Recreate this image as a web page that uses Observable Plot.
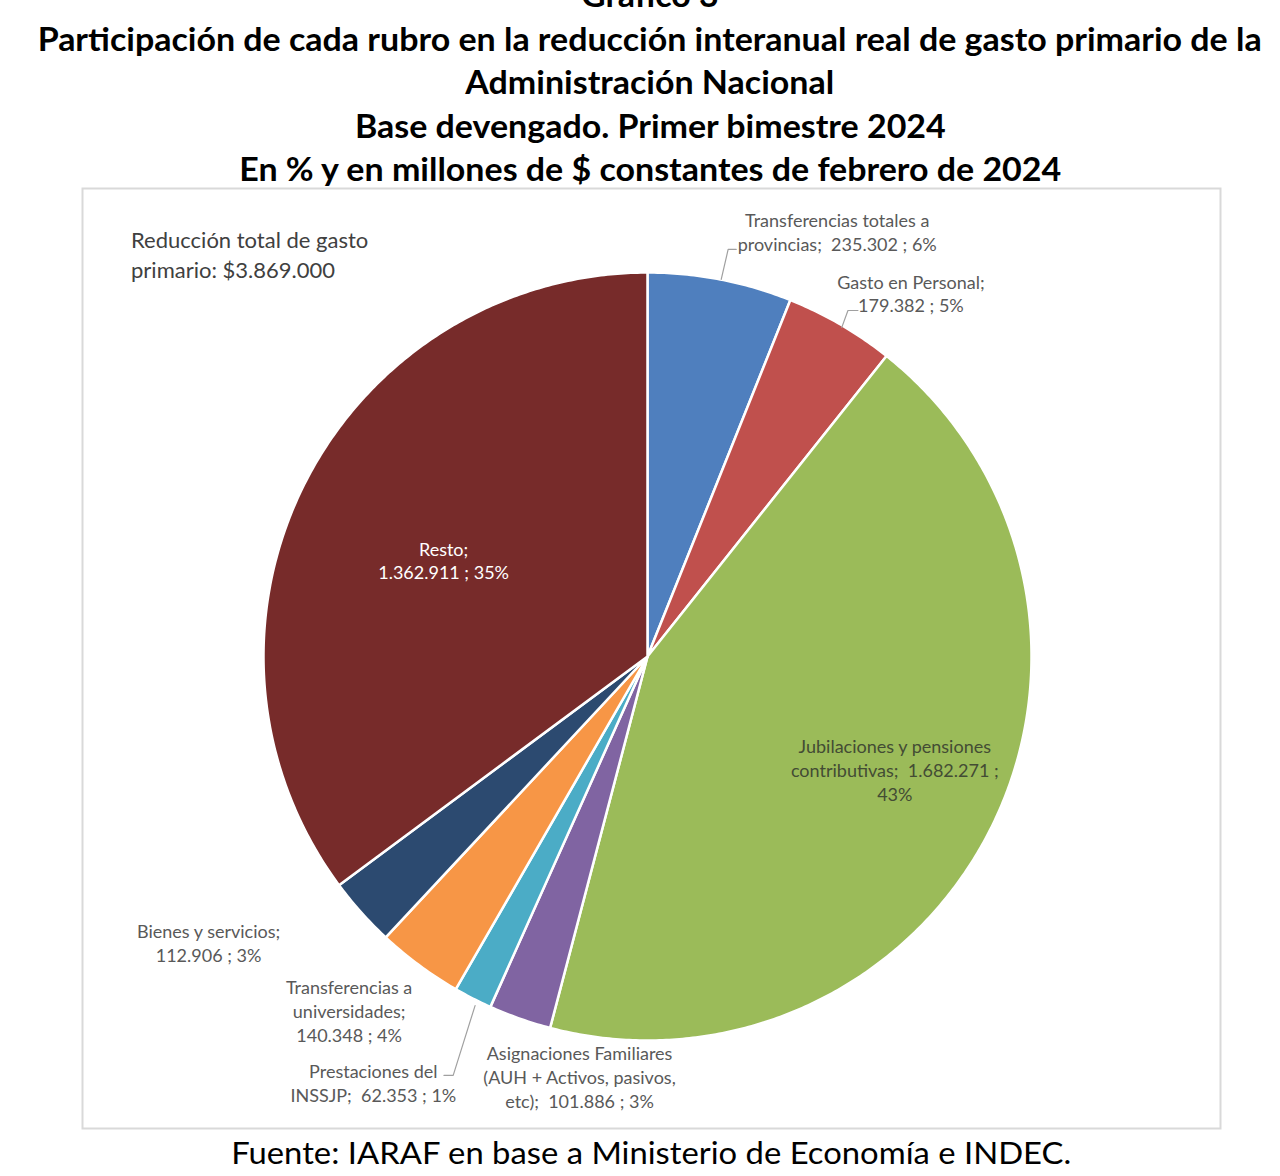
<!DOCTYPE html>
<html>
<head>
<meta charset="utf-8">
<script src="https://cdn.jsdelivr.net/npm/d3@7"></script>
<script src="https://cdn.jsdelivr.net/npm/@observablehq/plot@0.6"></script>
<style>
  html, body { margin: 0; padding: 0; background: #fff; width: 1280px; height: 1176px; overflow: hidden; }
  #title { position: absolute; left: 10px; top: -27px; width: 1280px; text-align: center;
           font-family: Lato, "Open Sans", sans-serif; font-weight: 700; font-size: 32px; line-height: 43.5px; color: #000; }
  #title div { white-space: nowrap; }
  #title span, #footer span { display: inline-block; transform-origin: center; }
  #chart { position: absolute; left: 82px; top: 188px; }
  #footer { position: absolute; left: 11px; top: 1132px; width: 1280px; text-align: center;
            font-family: Lato, "Open Sans", sans-serif; font-size: 30px; line-height: 40px; color: #000; }
</style>
</head>
<body>
<div id="title"></div>
<div id="chart"></div>
<div id="footer"><span>Fuente: IARAF en base a Ministerio de Economía e INDEC.</span></div>
<script>
// ---- data ----
const titleLines = [
  "Gráfico 3",
  "Participación de cada rubro en la reducción interanual real de gasto primario de la",
  "Administración Nacional",
  "Base devengado. Primer bimestre 2024",
  "En % y en millones de $ constantes de febrero de 2024"
];
const categories = [
  "Transferencias totales a provincias",
  "Gasto en Personal",
  "Jubilaciones y pensiones contributivas",
  "Asignaciones Familiares (AUH + Activos, pasivos, etc)",
  "Prestaciones del INSSJP",
  "Transferencias a universidades",
  "Bienes y servicios",
  "Resto"
];
const values = [235302, 179382, 1682271, 101886, 62353, 140348, 112906, 1362911];
const percents = [6, 5, 43, 3, 1, 4, 3, 35];
const labelTexts = [
  "Transferencias totales a\nprovincias;  235.302 ; 6%",
  "Gasto en Personal;\n179.382 ; 5%",
  "Jubilaciones y pensiones\ncontributivas;  1.682.271 ;\n43%",
  "Asignaciones Familiares\n(AUH + Activos, pasivos,\netc);  101.886 ; 3%",
  "Prestaciones del\nINSSJP;  62.353 ; 1%",
  "Transferencias a\nuniversidades;\n140.348 ; 4%",
  "Bienes y servicios;\n112.906 ; 3%",
  "Resto;\n1.362.911 ; 35%"
];
const totalNote = "Reducción total de gasto\nprimario: $3.869.000";

// ---- styles / layout (not data) ----
const colors = ["#4f7fbe", "#c0504d", "#9bbb59", "#8064a2", "#4bacc6", "#f79646", "#2c4a70", "#772b2a"];
const labelColors = ["#595959", "#595959", "#434c34", "#595959", "#595959", "#595959", "#595959", "#ffffff"];
// label anchor positions in pie-radius units (x right, y up, centre = 0,0)
const labelPos = [
  [0.494, 1.106], [0.686, 0.947], [0.644, -0.294], [-0.177, -1.093],
  [-0.714, -1.108], [-0.777, -0.921], [-1.143, -0.745], [-0.531, 0.251]
];
const labelLH = [1.33, 1.33, 1.33, 1.33, 1.33, 1.33, 1.33, 1.28];
const leaders = [
  [[0.231, 1.060], [0.210, 1.060], [0.192, 0.982]],
  [[0.548, 0.901], [0.522, 0.901], [0.506, 0.857]],
  [[-0.530, -1.091], [-0.506, -1.091], [-0.449, -0.909]]
];

// title
const titleEl = document.getElementById("title");
titleLines.forEach(t => { const d = document.createElement("div"); const s = document.createElement("span"); s.textContent = t; d.appendChild(s); titleEl.appendChild(d); });

// ---- pie geometry from data ----
const arcs = d3.pie().sort(null).startAngle(0).endAngle(2 * Math.PI)(values);
const slices = arcs.map((a, i) => {
  const pts = [{x: 0, y: 0}];
  const n = Math.max(2, Math.ceil((a.endAngle - a.startAngle) / (Math.PI / 360)));
  for (let k = 0; k <= n; k++) {
    const t = a.startAngle + (a.endAngle - a.startAngle) * k / n;
    pts.push({x: Math.sin(t), y: Math.cos(t)});
  }
  return {i, pts};
});

const W = 1138, H = 940, cx = 565, cy = 468, R = 384;
const labels = labelTexts.map((t, i) => ({text: t, x: labelPos[i][0], y: labelPos[i][1], i}));

const marks = [
  Plot.frame({stroke: "#d9d9d9", strokeWidth: 2}),
  ...slices.map(s => Plot.line(s.pts, {x: "x", y: "y", curve: "linear-closed", fill: colors[s.i], stroke: "#ffffff", strokeWidth: 2.5, strokeLinejoin: "round"})),
  ...leaders.map(l => Plot.line(l.map(p => ({x: p[0], y: p[1]})), {x: "x", y: "y", stroke: "#a0a0a0", strokeWidth: 1.2})),
  ...labels.map(l => Plot.text([l], {x: "x", y: "y", text: "text", fill: labelColors[l.i], fontSize: 18, lineHeight: labelLH[l.i], textAnchor: "middle"})),
  Plot.text([{x: -1.345, y: 1.050, text: totalNote}], {x: "x", y: "y", text: "text", fill: "#404040", fontSize: 22, lineHeight: 1.36, textAnchor: "start"})
];

const chart = Plot.plot({
  width: W, height: H,
  margin: 0,
  x: {domain: [-1, 1], range: [cx - R, cx + R], axis: null},
  y: {domain: [-1, 1], range: [cy + R, cy - R], axis: null},
  style: {fontFamily: "Lato, 'Open Sans', sans-serif", background: "#fff", overflow: "visible"},
  marks
});
document.getElementById("chart").appendChild(chart);

// fit title/footer widths to the reference (narrow Calibri-like face)
const spans = titleEl.querySelectorAll("span");
const w2 = spans[1].getBoundingClientRect().width;
const sc = 1224 / w2;
spans.forEach(s => s.style.transform = `scaleX(${sc})`);
const fs = document.querySelector("#footer span");
fs.style.transform = `scaleX(${840 / fs.getBoundingClientRect().width})`;
</script>
</body>
</html>
